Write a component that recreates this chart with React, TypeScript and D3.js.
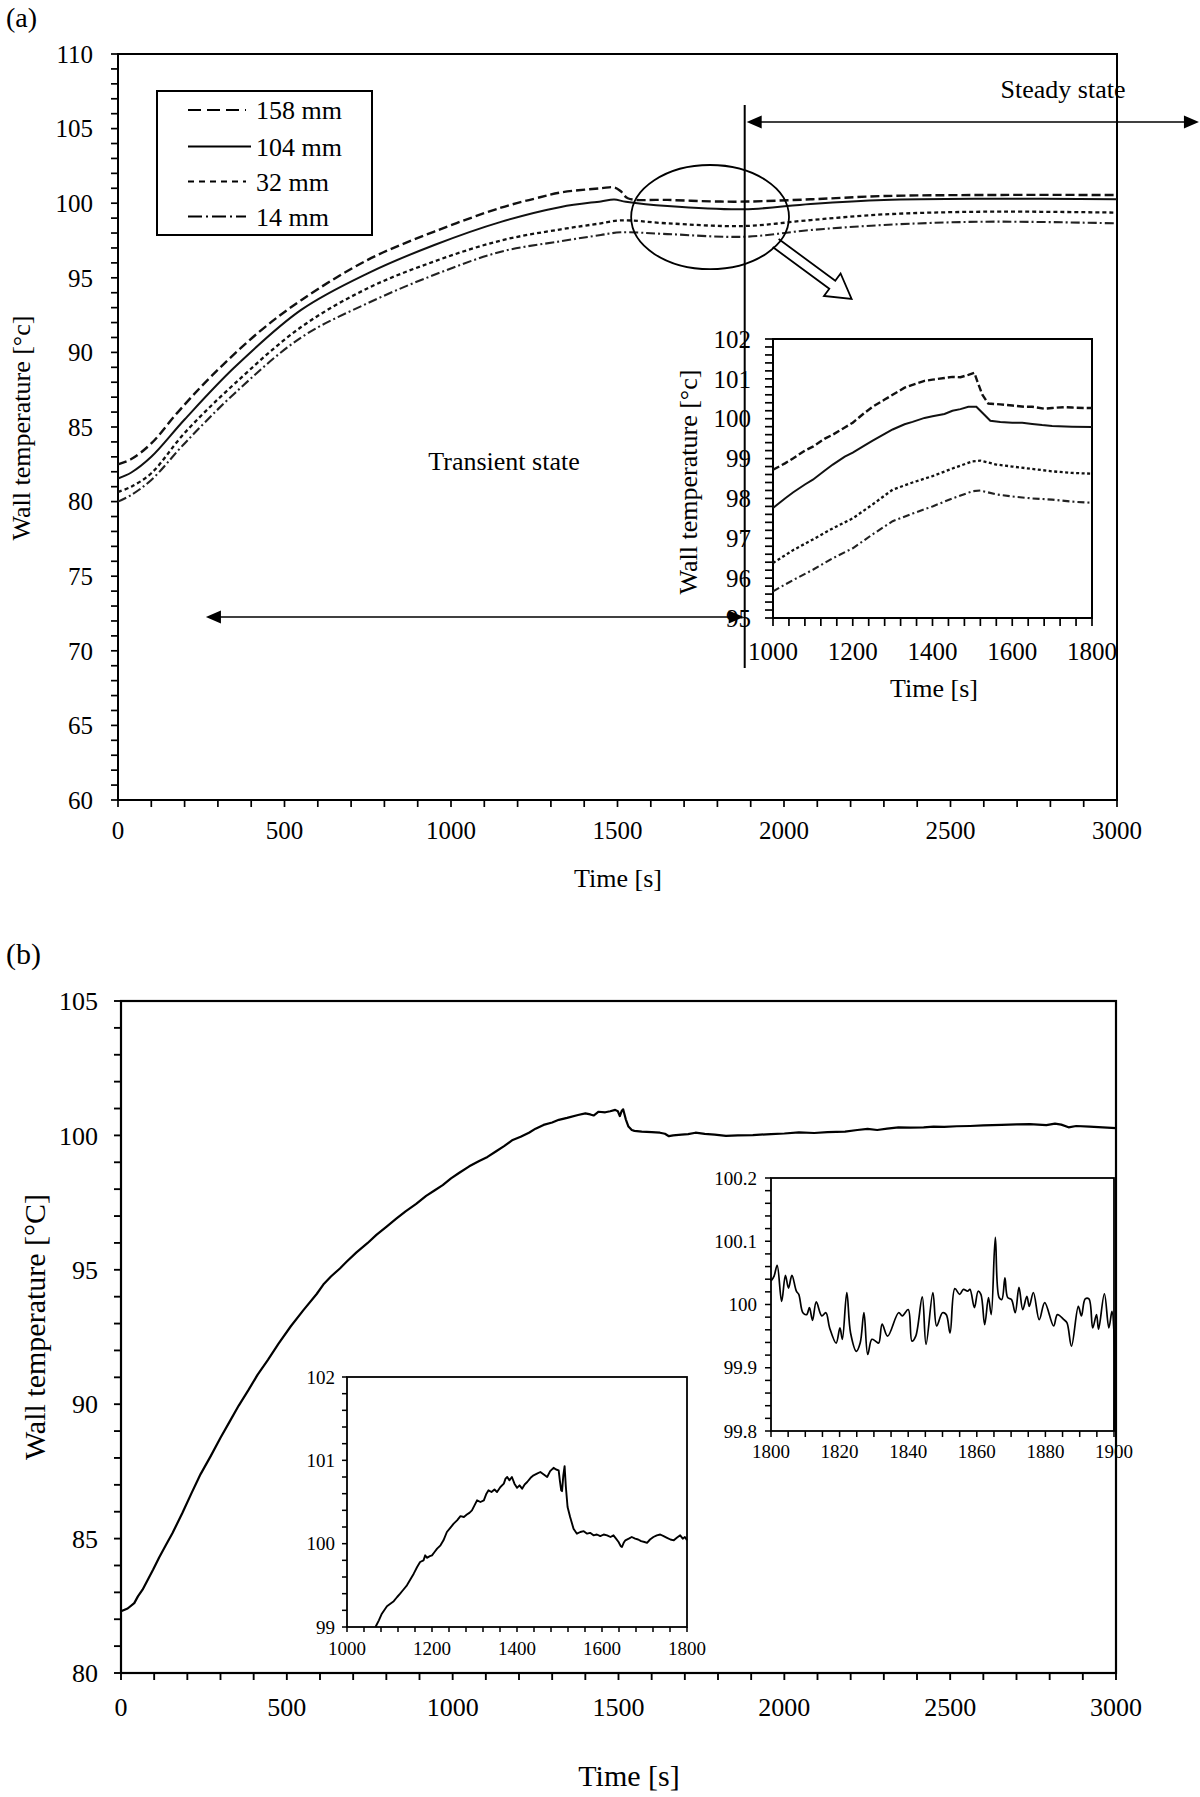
import React from 'react';
import * as d3 from 'd3';

const FONT = '"Liberation Serif", "Times New Roman", Times, serif';
type Pt = [number, number];

// ---------- Panel (a): wall temperature at four heights (time s, °C) ----------
const a158: Pt[] = [[0,82.5],[40,82.85],[100,83.9],[180,86.0],[280,88.4],[420,91.3],[550,93.5],[750,96.2],[950,98.1],[1150,99.7],[1250,100.3],[1330,100.72],[1450,101.0],[1490,101.06],[1510,100.8],[1531,100.33],[1650,100.22],[1810,100.11],[1890,100.11],[2080,100.26],[2300,100.48],[2600,100.55],[3000,100.55]];
const a104: Pt[] = [[0,81.55],[40,81.95],[100,83.0],[200,85.5],[350,89.0],[550,92.85],[750,95.3],[950,97.2],[1150,98.75],[1330,99.75],[1450,100.12],[1490,100.24],[1525,100.1],[1650,99.81],[1880,99.59],[2080,99.95],[2300,100.22],[2600,100.3],[3000,100.26]];
const a32: Pt[] = [[0,80.65],[40,81.0],[100,81.9],[200,84.6],[350,87.9],[550,91.7],[750,94.3],[950,96.1],[1150,97.5],[1330,98.25],[1450,98.65],[1510,98.85],[1650,98.65],[1880,98.47],[2080,98.87],[2300,99.25],[2600,99.43],[3000,99.37]];
const a14: Pt[] = [[0,80.0],[40,80.45],[100,81.45],[200,83.9],[350,87.25],[550,91.0],[750,93.3],[950,95.2],[1150,96.75],[1330,97.45],[1450,97.87],[1510,98.05],[1650,97.93],[1880,97.75],[2080,98.2],[2300,98.54],[2600,98.76],[3000,98.65]];
const aLegendLabels = ['158 mm', '104 mm', '32 mm', '14 mm'];
const aYTicks = [60, 65, 70, 75, 80, 85, 90, 95, 100, 105, 110];
const aXTicks = [0, 500, 1000, 1500, 2000, 2500, 3000];

// inset of (a)
const ai158: Pt[] = [[1000,98.72],[1030,98.88],[1050,99.0],[1080,99.2],[1100,99.3],[1130,99.5],[1150,99.6],[1180,99.78],[1200,99.9],[1230,100.15],[1250,100.3],[1280,100.48],[1300,100.6],[1330,100.78],[1350,100.85],[1380,100.95],[1400,100.98],[1430,101.02],[1450,101.05],[1470,101.04],[1490,101.1],[1505,101.15],[1512,100.95],[1525,100.6],[1540,100.38],[1570,100.36],[1600,100.33],[1630,100.3],[1650,100.3],[1680,100.25],[1700,100.27],[1730,100.29],[1750,100.28],[1780,100.27],[1800,100.27]];
const ai104: Pt[] = [[1000,97.76],[1030,98.0],[1050,98.15],[1080,98.35],[1100,98.47],[1130,98.7],[1150,98.85],[1180,99.05],[1200,99.15],[1230,99.33],[1250,99.45],[1280,99.62],[1300,99.73],[1330,99.86],[1350,99.92],[1380,100.02],[1400,100.06],[1430,100.12],[1450,100.2],[1470,100.24],[1490,100.3],[1510,100.3],[1525,100.15],[1545,99.95],[1570,99.92],[1600,99.9],[1625,99.9],[1650,99.87],[1675,99.84],[1700,99.82],[1750,99.8],[1800,99.79]];
const ai32: Pt[] = [[1000,96.38],[1050,96.7],[1100,96.97],[1150,97.25],[1200,97.5],[1250,97.85],[1300,98.22],[1350,98.4],[1400,98.56],[1450,98.75],[1500,98.93],[1520,98.95],[1560,98.85],[1600,98.8],[1650,98.74],[1700,98.68],[1750,98.64],[1800,98.62]];
const ai14: Pt[] = [[1000,95.67],[1050,95.95],[1100,96.21],[1150,96.5],[1200,96.75],[1250,97.1],[1300,97.43],[1350,97.62],[1400,97.8],[1450,98.0],[1500,98.18],[1520,98.2],[1560,98.1],[1600,98.05],[1650,98.0],[1700,97.97],[1750,97.92],[1800,97.89]];
const aiYTicks = [95, 96, 97, 98, 99, 100, 101, 102];
const aiXTicks = [1000, 1200, 1400, 1600, 1800];

// ---------- Panel (b) ----------
const bMain: Pt[] = [[0,82.3],[20,82.4],[40,82.6],[51,82.85],[65,83.1],[80,83.45],[97,83.85],[115,84.3],[135,84.75],[155,85.2],[185,85.95],[213,86.7],[240,87.4],[270,88.06],[300,88.75],[328,89.36],[355,89.95],[385,90.54],[412,91.1],[443,91.65],[475,92.25],[512,92.9],[550,93.5],[590,94.1],[610,94.45],[633,94.75],[660,95.05],[680,95.3],[710,95.65],[743,95.99],[770,96.3],[800,96.6],[830,96.9],[858,97.17],[890,97.45],[920,97.75],[945,97.95],[970,98.15],[995,98.4],[1019,98.6],[1050,98.85],[1080,99.05],[1105,99.2],[1130,99.4],[1155,99.6],[1181,99.83],[1205,99.95],[1230,100.1],[1250,100.25],[1274,100.39],[1300,100.48],[1320,100.58],[1345,100.65],[1378,100.76],[1400,100.82],[1415,100.78],[1425,100.74],[1440,100.88],[1460,100.86],[1475,100.9],[1490,100.95],[1498,100.9],[1504,100.72],[1510,100.92],[1514,100.97],[1522,100.6],[1530,100.33],[1540,100.2],[1548,100.17],[1570,100.14],[1600,100.12],[1625,100.1],[1640,100.06],[1652,99.97],[1665,100.0],[1690,100.03],[1710,100.05],[1732,100.1],[1760,100.06],[1790,100.03],[1824,99.98],[1860,100.0],[1905,100.01],[1960,100.05],[2000,100.07],[2044,100.11],[2090,100.09],[2130,100.12],[2183,100.14],[2220,100.2],[2251,100.24],[2280,100.2],[2310,100.25],[2344,100.3],[2380,100.29],[2420,100.3],[2450,100.33],[2482,100.32],[2520,100.34],[2560,100.35],[2600,100.37],[2655,100.39],[2700,100.41],[2740,100.42],[2790,100.38],[2816,100.44],[2835,100.4],[2857,100.3],[2880,100.35],[2920,100.33],[2960,100.3],[3000,100.27]];
const bZoom1: Pt[] = [[1067,99.0],[1075,99.08],[1082,99.16],[1090,99.22],[1094,99.25],[1102,99.28],[1110,99.31],[1118,99.36],[1125,99.4],[1133,99.45],[1141,99.5],[1149,99.57],[1157,99.64],[1165,99.72],[1172,99.78],[1180,99.8],[1184,99.86],[1188,99.83],[1195,99.85],[1200,99.86],[1206,99.9],[1212,99.94],[1220,99.98],[1227,100.04],[1235,100.14],[1243,100.19],[1251,100.24],[1259,100.28],[1267,100.33],[1275,100.32],[1282,100.35],[1288,100.37],[1294,100.4],[1300,100.46],[1306,100.52],[1314,100.5],[1322,100.52],[1328,100.6],[1333,100.64],[1340,100.62],[1347,100.65],[1353,100.62],[1361,100.68],[1369,100.72],[1373,100.78],[1377,100.8],[1382,100.76],[1388,100.8],[1394,100.72],[1400,100.67],[1406,100.7],[1412,100.66],[1418,100.71],[1424,100.74],[1432,100.79],[1439,100.82],[1447,100.84],[1455,100.86],[1463,100.83],[1471,100.8],[1478,100.87],[1486,100.91],[1492,100.89],[1498,100.88],[1501,100.75],[1504,100.64],[1506,100.63],[1509,100.82],[1512,100.93],[1515,100.68],[1519,100.44],[1525,100.32],[1533,100.18],[1541,100.12],[1549,100.14],[1557,100.15],[1565,100.12],[1572,100.13],[1580,100.1],[1588,100.11],[1596,100.09],[1604,100.11],[1612,100.1],[1620,100.08],[1627,100.1],[1633,100.06],[1639,100.02],[1644,99.97],[1647,99.96],[1651,100.01],[1655,100.04],[1663,100.06],[1670,100.08],[1678,100.06],[1685,100.05],[1692,100.03],[1700,100.02],[1706,100.01],[1713,100.05],[1721,100.08],[1729,100.1],[1737,100.11],[1745,100.09],[1753,100.07],[1761,100.05],[1769,100.04],[1776,100.07],[1784,100.1],[1790,100.06],[1795,100.08],[1800,100.04]];
const bZoom2: Pt[] = [[1800,100.037],[1800.9,100.045],[1801.8,100.062],[1803.1,100.005],[1804.2,100.046],[1805.1,100.026],[1806.1,100.046],[1807.4,100.021],[1808.1,100.016],[1809.3,99.987],[1810.4,99.984],[1811.2,99.995],[1812.1,99.975],[1813.2,100.004],[1814.8,99.982],[1816.0,99.987],[1817.1,99.963],[1819.0,99.939],[1820.1,99.963],[1820.8,99.945],[1822.1,100.019],[1823.2,99.955],[1824.9,99.926],[1826.0,99.939],[1827.1,99.987],[1828.2,99.921],[1829.4,99.945],[1830.5,99.942],[1831.4,99.939],[1832.4,99.969],[1834.0,99.95],[1837.2,99.987],[1838.3,99.982],[1840.0,99.992],[1841.1,99.942],[1842.2,99.95],[1844.1,100.012],[1845.2,99.937],[1847.2,100.019],[1848.3,99.966],[1850.0,99.987],[1851.1,99.984],[1852.2,99.955],[1853.6,100.025],[1855.0,100.016],[1856.1,100.024],[1857.3,100.021],[1858.0,100.024],[1859.3,99.995],[1860.4,100.021],[1861.2,100.016],[1862.3,99.968],[1863.4,100.011],[1864.2,99.984],[1865.4,100.106],[1866.5,100.011],[1867.3,100.008],[1868.2,100.042],[1869.0,100.011],[1870.1,100.008],[1871.2,99.987],[1872.3,100.027],[1873.4,99.992],[1874.6,100.013],[1875.3,99.997],[1876.5,100.019],[1878.2,99.976],[1879.8,100.003],[1882.4,99.966],[1883.5,99.984],[1885.4,99.976],[1886.3,99.971],[1887.6,99.934],[1889.6,99.997],[1890.5,99.982],[1891.6,100.009],[1892.7,100.009],[1893.8,99.963],[1894.9,99.984],[1895.5,99.961],[1897.2,100.017],[1898.5,99.963],[1899.4,99.989],[1900,99.955],[1900.05,99.8]];
const bYTicks = [80, 85, 90, 95, 100, 105];
const bXTicks = [0, 500, 1000, 1500, 2000, 2500, 3000];
const b1YTicks = [99, 100, 101, 102];
const b1XTicks = [1000, 1200, 1400, 1600, 1800];
const b2YTicks = [99.8, 99.9, 100, 100.1, 100.2];
const b2XTicks = [1800, 1820, 1840, 1860, 1880, 1900];

// ---------- scales ----------
const aX = d3.scaleLinear().domain([0, 3000]).range([118, 1117]);
const aY = d3.scaleLinear().domain([60, 110]).range([800, 54]);
const aiX = d3.scaleLinear().domain([1000, 1800]).range([773, 1092]);
const aiY = d3.scaleLinear().domain([95, 102]).range([618, 339]);
const bX = d3.scaleLinear().domain([0, 3000]).range([121, 1116]);
const bY = d3.scaleLinear().domain([80, 105]).range([1673, 1001]);
const b1X = d3.scaleLinear().domain([1000, 1800]).range([347, 687]);
const b1Y = d3.scaleLinear().domain([99, 102]).range([1627, 1377]);
const b2X = d3.scaleLinear().domain([1800, 1900]).range([771, 1114]);
const b2Y = d3.scaleLinear().domain([99.8, 100.2]).range([1431, 1178]);

function steps(lo: number, hi: number, step: number) {
  const n = Math.round((hi - lo) / step);
  return d3.range(n + 1).map(i => +(lo + i * step).toFixed(6));
}

function Axes(p: any) {
  const { x, y, xTicks, yTicks, xStep, yStep, tick, fs, yGap, xBase, sw } = p;
  const [x0, x1] = x.range();
  const [y0, y1] = y.range();
  const [dx0, dx1] = x.domain();
  const [dy0, dy1] = y.domain();
  return (
    <g>
      <rect x={x0} y={y1} width={x1 - x0} height={y0 - y1} fill={p.fill || 'none'} stroke="#000" strokeWidth={sw} />
      {steps(dy0, dy1, yStep).map((v, i) => (
        <line key={'ym' + i} x1={x0 - tick} x2={x0} y1={y(v)} y2={y(v)} stroke="#000" strokeWidth={sw * 0.85} />
      ))}
      {steps(dx0, dx1, xStep).map((v, i) => (
        <line key={'xm' + i} x1={x(v)} x2={x(v)} y1={y0} y2={y0 + tick} stroke="#000" strokeWidth={sw * 0.85} />
      ))}
      {yTicks.map((v: number) => (
        <text key={'yl' + v} x={x0 - yGap} y={y(v)} dy="0.35em" textAnchor="end" fontSize={fs} fontFamily={FONT}>{String(v)}</text>
      ))}
      {xTicks.map((v: number) => (
        <text key={'xl' + v} x={x(v)} y={y0 + xBase} textAnchor="middle" fontSize={fs} fontFamily={FONT}>{String(v)}</text>
      ))}
    </g>
  );
}

function mkLine(sx: any, sy: any, curve: any = d3.curveMonotoneX) {
  return d3.line<Pt>().x(d => sx(d[0])).y(d => sy(d[1])).curve(curve);
}

function head(tipX: number, tipY: number, dirX: number, dirY: number, len = 15, hw = 6.5) {
  const n = Math.hypot(dirX, dirY);
  const ux = dirX / n, uy = dirY / n;
  const bx = tipX - ux * len, by = tipY - uy * len;
  return `${tipX},${tipY} ${bx - uy * hw},${by + ux * hw} ${bx + uy * hw},${by - ux * hw}`;
}

const styles = [
  { data: a158, inset: ai158, dash: '9 4', w: 2.4, legDash: '13 6', color: '#111' },
  { data: a104, inset: ai104, dash: undefined, w: 2.0, legDash: undefined, color: '#111' },
  { data: a32, inset: ai32, dash: '4 3', w: 2.3, legDash: '6 5', color: '#111' },
  { data: a14, inset: ai14, dash: '9 3 2 3', w: 2.1, legDash: '14 4 2 4', color: '#222' },
];

export default function App() {
  const la = mkLine(aX, aY, d3.curveCatmullRom.alpha(0.5));
  const lai = mkLine(aiX, aiY, d3.curveLinear);
  const lb = mkLine(bX, bY, d3.curveLinear);
  const lb1 = mkLine(b1X, b1Y, d3.curveLinear);
  const lb2 = mkLine(b2X, b2Y, d3.curveCatmullRom.alpha(0.5));

  // annotation geometry in data units of panel (a)
  const vlineX = aX(1882);
  const steadyY = aY(105.44);
  const transY = aY(72.27);
  const transL = aX(264);
  const steadyR = aX(3249);
  const ellCx = aX(1778), ellCy = aY(99.07);
  const ellRx = aX(1778 + 237) - aX(1778), ellRy = aY(99.07 - 3.49) - aY(99.07);
  // hollow arrow
  const sx0 = aX(1975), sy0 = aY(97.33), tx = aX(2203), ty = aY(93.58);
  const L = Math.hypot(tx - sx0, ty - sy0);
  const ux = (tx - sx0) / L, uy = (ty - sy0) / L;
  const nx = -uy, ny = ux;
  const bxh = tx - ux * 24, byh = ty - uy * 24;
  const hollow = [
    [sx0 + nx * 5, sy0 + ny * 5], [bxh + nx * 5, byh + ny * 5], [bxh + nx * 14, byh + ny * 14], [tx, ty],
    [bxh - nx * 14, byh - ny * 14], [bxh - nx * 5, byh - ny * 5], [sx0 - nx * 5, sy0 - ny * 5],
  ].map((p, i) => (i === 0 ? 'M' : 'L') + p[0] + ',' + p[1]).join(' ');

  const legendY = [110, 146.5, 181.5, 216.5];

  return (
    <svg width={1200} height={1797} viewBox="0 0 1200 1797" style={{ position: 'absolute', left: 0, top: 0, background: '#fff' }} fontFamily={FONT}>
      <rect x={0} y={0} width={1200} height={1797} fill="#fff" />
      {/* ================= Panel (a) ================= */}
      <text x={6} y={27} fontSize={28}>(a)</text>
      <Axes x={aX} y={aY} xTicks={aXTicks} yTicks={aYTicks} xStep={100} yStep={1} tick={7} fs={25} yGap={25} xBase={39} sw={2} />
      <text transform={`translate(30,428) rotate(-90)`} textAnchor="middle" fontSize={26}>Wall temperature [°c]</text>
      <text x={618} y={887} textAnchor="middle" fontSize={26}>Time [s]</text>

      {styles.map((s, i) => (
        <path key={'a' + i} d={la(s.data) || ''} fill="none" stroke={s.color} strokeWidth={s.w} strokeDasharray={s.dash} />
      ))}

      {/* legend */}
      <rect x={157} y={91} width={215} height={144} fill="#fff" stroke="#000" strokeWidth={2} />
      {styles.map((s, i) => (
        <g key={'lg' + i}>
          <line x1={188} x2={i === 1 ? 251 : 246} y1={legendY[i]} y2={legendY[i]} stroke="#000" strokeWidth={2} strokeDasharray={s.legDash} />
          <text x={256} y={legendY[i]} dy="0.35em" fontSize={26}>{aLegendLabels[i]}</text>
        </g>
      ))}

      <text x={504} y={470} textAnchor="middle" fontSize={26}>Transient state</text>
      <text x={1063} y={98} textAnchor="middle" fontSize={26}>Steady state</text>

      {/* ellipse and hollow arrow */}
      <ellipse cx={ellCx} cy={ellCy} rx={ellRx} ry={ellRy} fill="none" stroke="#000" strokeWidth={1.8} />
      <path d={hollow} fill="none" stroke="#000" strokeWidth={1.8} strokeLinejoin="miter" />

      {/* steady state arrow */}
      <line x1={vlineX + 8} x2={steadyR - 8} y1={steadyY} y2={steadyY} stroke="#000" strokeWidth={1.6} />
      <polygon points={head(vlineX + 2, steadyY, -1, 0)} fill="#000" />
      <polygon points={head(steadyR - 1, steadyY, 1, 0)} fill="#000" />

      {/* inset of (a) */}
      <Axes x={aiX} y={aiY} xTicks={aiXTicks} yTicks={aiYTicks} xStep={40} yStep={0.2} tick={8} fs={25} yGap={22} xBase={42} sw={2} fill="#fff" />
      {styles.map((s, i) => (
        <path key={'ai' + i} d={lai(s.inset) || ''} fill="none" stroke={s.color} strokeWidth={s.w} strokeDasharray={s.dash ? (i === 0 ? '7 3' : i === 2 ? '3 2.5' : '7 3 2 3') : undefined} />
      ))}
      <text transform={`translate(697,482) rotate(-90)`} textAnchor="middle" fontSize={26}>Wall temperature [°c]</text>
      <text x={934} y={697} textAnchor="middle" fontSize={26}>Time [s]</text>

      {/* vertical divider and transient arrow */}
      <line x1={vlineX} x2={vlineX} y1={105} y2={668} stroke="#000" strokeWidth={2} />
      <line x1={transL + 8} x2={vlineX - 8} y1={transY} y2={transY} stroke="#000" strokeWidth={1.6} />
      <polygon points={head(transL, transY, -1, 0)} fill="#000" />
      <polygon points={head(vlineX - 1, transY, 1, 0)} fill="#000" />

      {/* ================= Panel (b) ================= */}
      <text x={6} y={964} fontSize={30}>(b)</text>
      <Axes x={bX} y={bY} xTicks={bXTicks} yTicks={bYTicks} xStep={100} yStep={1} tick={7} fs={26} yGap={23} xBase={43} sw={2.2} />
      <text transform={`translate(45,1327) rotate(-90)`} textAnchor="middle" fontSize={30}>Wall temperature [°C]</text>
      <text x={629} y={1786} textAnchor="middle" fontSize={30}>Time [s]</text>
      <path d={lb(bMain) || ''} fill="none" stroke="#000" strokeWidth={2.2} strokeLinejoin="round" />

      {/* inset 1 of (b) */}
      <Axes x={b1X} y={b1Y} xTicks={b1XTicks} yTicks={b1YTicks} xStep={40} yStep={0.2} tick={5} fs={19} yGap={12} xBase={28} sw={1.8} fill="#fff" />
      <path d={lb1(bZoom1) || ''} fill="none" stroke="#000" strokeWidth={1.9} strokeLinejoin="round" />

      {/* inset 2 of (b) */}
      <Axes x={b2X} y={b2Y} xTicks={b2XTicks} yTicks={b2YTicks} xStep={5} yStep={0.02} tick={6} fs={19} yGap={14} xBase={27} sw={1.8} fill="#fff" />
      <path d={lb2(bZoom2) || ''} fill="none" stroke="#000" strokeWidth={1.7} strokeLinejoin="round" />
    </svg>
  );
}
